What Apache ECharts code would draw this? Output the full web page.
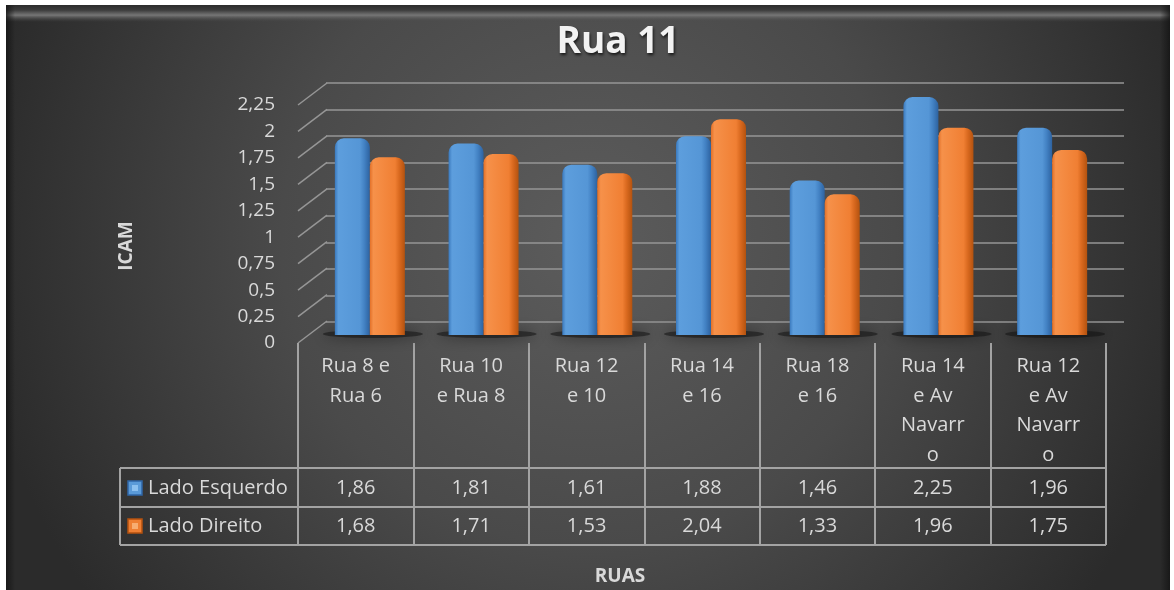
<!DOCTYPE html>
<html>
<head>
<meta charset="utf-8">
<title>Rua 11</title>
<script src="https://cdn.jsdelivr.net/npm/echarts@6/dist/echarts.min.js"></script>
<style>
html, body { margin: 0; padding: 0; background: #ffffff; }
#myChart { width: 1174px; height: 590px; }
</style>
</head>
<body>
<div id="myChart"></div>
<script>
var categories = [ 'Rua 8 e\nRua 6', 'Rua 10\ne Rua 8', 'Rua 12\ne 10', 'Rua 14\ne 16',
		'Rua 18\ne 16', 'Rua 14\ne Av\nNavarr\no', 'Rua 12\ne Av\nNavarr\no' ];
var seriesNames = [ 'Lado Esquerdo', 'Lado Direito' ];
var ladoEsquerdo = [ 1.86, 1.81, 1.61, 1.88, 1.46, 2.25, 1.96 ];
var ladoDireito = [ 1.68, 1.71, 1.53, 2.04, 1.33, 1.96, 1.75 ];
var yTicks = [ 0, 0.25, 0.5, 0.75, 1, 1.25, 1.5, 1.75, 2, 2.25 ];

var FONT = '"Open Sans", "Liberation Sans", sans-serif';
var TEXT_COLOR = '#d9d9d9';
var LINE_COLOR = '#a3a3a3';

function comma(v) {
	return String(v).replace('.', ',');
}
function comma2(v) {
	return v.toFixed(2).replace('.', ',');
}

function renderDiagonal(params, api) {
	var p = api.coord([ api.value(0), api.value(1) ]);
	var x0 = params.coordSys.x;
	return {
		type : 'line',
		shape : { x1 : x0, y1 : p[1], x2 : x0 + 29, y2 : p[1] - 22 },
		style : { stroke : '#969696', lineWidth : 1.5 }
	};
}

// sombra no chão, por baixo de cada par de barras
function renderShadow(params, api) {
	var p = api.coord([ api.value(0), 0 ]);
	return {
		type : 'ellipse',
		shape : { cx : p[0] + 3, cy : p[1] - 1, rx : 50, ry : 4 },
		style : {
			fill : 'rgba(18,18,18,0.55)',
			shadowBlur : 14,
			shadowColor : 'rgba(0,0,0,0.9)'
		}
	};
}

function barGradient(stops) {
	return {
		type : 'linear', x : 0, y : 0, x2 : 1, y2 : 0,
		colorStops : stops
	};
}

var myChart = echarts.init(document.getElementById('myChart'));
myChart.setOption({
	animation : false,
	grid : [ {
		left : 326, right : 50, top : 83, bottom : 268
	}, {
		left : 298, right : 68, top : 105, bottom : 247
	}, {
		left : 313, right : 65, top : 97, bottom : 255
	} ],
	xAxis : [ {
		gridIndex : 0, type : 'value', min : 0, max : 1, show : false
	}, {
		gridIndex : 1,
		type : 'category',
		data : categories,
		axisLine : { show : false },
		axisTick : {
			show : true,
			interval : 0,
			length : 202,
			lineStyle : { color : LINE_COLOR, width : 2 }
		},
		axisLabel : {
			interval : 0,
			margin : 9,
			color : TEXT_COLOR,
			fontFamily : FONT,
			fontSize : 20,
			lineHeight : 29.5
		}
	}, {
		gridIndex : 2, type : 'category', data : categories, show : false
	} ],
	yAxis : [ {
		gridIndex : 0,
		type : 'value',
		min : 0, max : 2.25, interval : 0.25,
		axisLine : { show : false },
		axisTick : { show : false },
		axisLabel : { show : false },
		splitLine : { show : true, lineStyle : { color : '#969696', width : 1.5 } }
	}, {
		gridIndex : 1,
		type : 'value',
		min : 0, max : 2.25, interval : 0.25,
		axisLine : { show : false },
		axisTick : { show : false },
		splitLine : { show : false },
		axisLabel : {
			margin : 23,
			color : TEXT_COLOR,
			fontFamily : FONT,
			fontSize : 19,
			formatter : function(v) {
				return comma(v);
			}
		}
	}, {
		gridIndex : 2, type : 'value', min : 0, max : 2.25, show : false,
		splitLine : { show : false }
	} ],
	series : [ {
		type : 'custom',
		xAxisIndex : 1, yAxisIndex : 1,
		silent : true,
		renderItem : renderDiagonal,
		data : yTicks.map(function(v) { return [ 0, v ]; })
	}, {
		type : 'custom',
		xAxisIndex : 2, yAxisIndex : 2,
		silent : true,
		z : 1,
		renderItem : renderShadow,
		data : categories.map(function(c, i) { return [ i ]; })
	}, {
		name : seriesNames[0],
		type : 'bar',
		xAxisIndex : 2, yAxisIndex : 2,
		barWidth : 35,
		barGap : '0%',
		data : ladoEsquerdo,
		itemStyle : {
			borderRadius : [ 9, 9, 0, 0 ],
			color : barGradient([
				{ offset : 0, color : '#3a79bd' },
				{ offset : 0.1, color : '#5d9edd' },
				{ offset : 0.72, color : '#5596d6' },
				{ offset : 0.84, color : '#4382c4' },
				{ offset : 1, color : '#2d62a0' } ])
		}
	}, {
		name : seriesNames[1],
		type : 'bar',
		xAxisIndex : 2, yAxisIndex : 2,
		barWidth : 35,
		data : ladoDireito,
		itemStyle : {
			borderRadius : [ 9, 9, 0, 0 ],
			color : barGradient([
				{ offset : 0, color : '#e27028' },
				{ offset : 0.1, color : '#f6914a' },
				{ offset : 0.72, color : '#f07f33' },
				{ offset : 0.84, color : '#d9691f' },
				{ offset : 1, color : '#b3520f' } ])
		}
	} ]
});

// tabela de dados, fundo e textos
var colX = categories.map(function(c, i) {
	return myChart.convertToPixel({ xAxisIndex : 1 }, i);
});
var rows = [ ladoEsquerdo, ladoDireito ];
var rowY = [ 488, 526 ];
var keyColors = [ [ '#2f66a6', '#5a9ad8', '#8cc0ef' ], [ '#b5520f', '#ee7f33', '#f7ad72' ] ];

var elements = [ {
	type : 'rect',
	z : -10,
	shape : { x : 6, y : 5, width : 1164, height : 585 },
	style : {
		fill : {
			type : 'radial', x : 0.5, y : 0.4, r : 1.05,
			colorStops : [ { offset : 0, color : '#5c5c5c' },
					{ offset : 0.5, color : '#4a4a4a' },
					{ offset : 1, color : '#2b2b2b' } ]
		}
	}
}, {
	type : 'rect',
	z : -9,
	shape : { x : 6, y : 5, width : 1164, height : 17 },
	style : {
		fill : {
			type : 'linear', x : 0, y : 0, x2 : 0, y2 : 1,
			colorStops : [ { offset : 0, color : '#2c2c2c' },
					{ offset : 0.3, color : '#3c3c3c' },
					{ offset : 0.6, color : '#767676' },
					{ offset : 1, color : 'rgba(70,70,70,0)' } ]
		}
	}
}, {
	type : 'rect',
	z : -9,
	shape : { x : 6, y : 5, width : 9, height : 585 },
	style : {
		fill : {
			type : 'linear', x : 0, y : 0, x2 : 1, y2 : 0,
			colorStops : [ { offset : 0, color : 'rgba(20,20,20,0.8)' },
					{ offset : 1, color : 'rgba(20,20,20,0)' } ]
		}
	}
}, {
	type : 'rect',
	z : -9,
	shape : { x : 1160, y : 5, width : 10, height : 585 },
	style : {
		fill : {
			type : 'linear', x : 0, y : 0, x2 : 1, y2 : 0,
			colorStops : [ { offset : 0, color : 'rgba(20,20,20,0)' },
					{ offset : 1, color : 'rgba(20,20,20,0.8)' } ]
		}
	}
}, {
	type : 'text',
	z : 10,
	style : {
		text : 'Rua 11',
		x : 618, y : 42,
		fill : '#f2f2f2',
		font : 'bold 37px ' + FONT,
		textAlign : 'center',
		textVerticalAlign : 'middle',
		textShadowColor : 'rgba(0,0,0,0.7)',
		textShadowBlur : 3,
		textShadowOffsetX : 1,
		textShadowOffsetY : 2
	}
}, {
	type : 'text',
	z : 10,
	x : 127, y : 246,
	rotation : Math.PI / 2,
	style : {
		text : 'ICAM',
		x : 0, y : 0,
		fill : TEXT_COLOR,
		font : 'bold 19px ' + FONT,
		textAlign : 'center',
		textVerticalAlign : 'middle'
	}
}, {
	type : 'text',
	z : 10,
	style : {
		text : 'RUAS',
		x : 620, y : 577,
		fill : TEXT_COLOR,
		font : 'bold 19px ' + FONT,
		textAlign : 'center',
		textVerticalAlign : 'middle'
	}
} ];

// linhas da tabela
[ 468, 507, 545 ].forEach(function(y) {
	elements.push({
		type : 'line', z : 10,
		shape : { x1 : 120, y1 : y, x2 : 1106, y2 : y },
		style : { stroke : LINE_COLOR, lineWidth : 2 }
	});
});
elements.push({
	type : 'line', z : 10,
	shape : { x1 : 120, y1 : 468, x2 : 120, y2 : 545 },
	style : { stroke : LINE_COLOR, lineWidth : 2 }
});

rows.forEach(function(values, r) {
	var c = keyColors[r];
	elements.push({
		type : 'rect', z : 11,
		shape : { x : 128, y : rowY[r] - 7, width : 14, height : 14 },
		style : { fill : c[1], stroke : c[0], lineWidth : 1.5 }
	});
	elements.push({
		type : 'rect', z : 12,
		shape : { x : 132, y : rowY[r] - 3, width : 6, height : 6 },
		style : { fill : c[2] }
	});
	elements.push({
		type : 'text', z : 11,
		style : {
			text : seriesNames[r],
			x : 148, y : rowY[r],
			fill : TEXT_COLOR,
			font : '20px ' + FONT,
			textAlign : 'left',
			textVerticalAlign : 'middle'
		}
	});
	values.forEach(function(v, i) {
		elements.push({
			type : 'text', z : 11,
			style : {
				text : comma2(v),
				x : colX[i], y : rowY[r],
				fill : TEXT_COLOR,
				font : '20px ' + FONT,
				textAlign : 'center',
				textVerticalAlign : 'middle'
			}
		});
	});
});

myChart.setOption({ graphic : elements });
</script>
</body>
</html>
